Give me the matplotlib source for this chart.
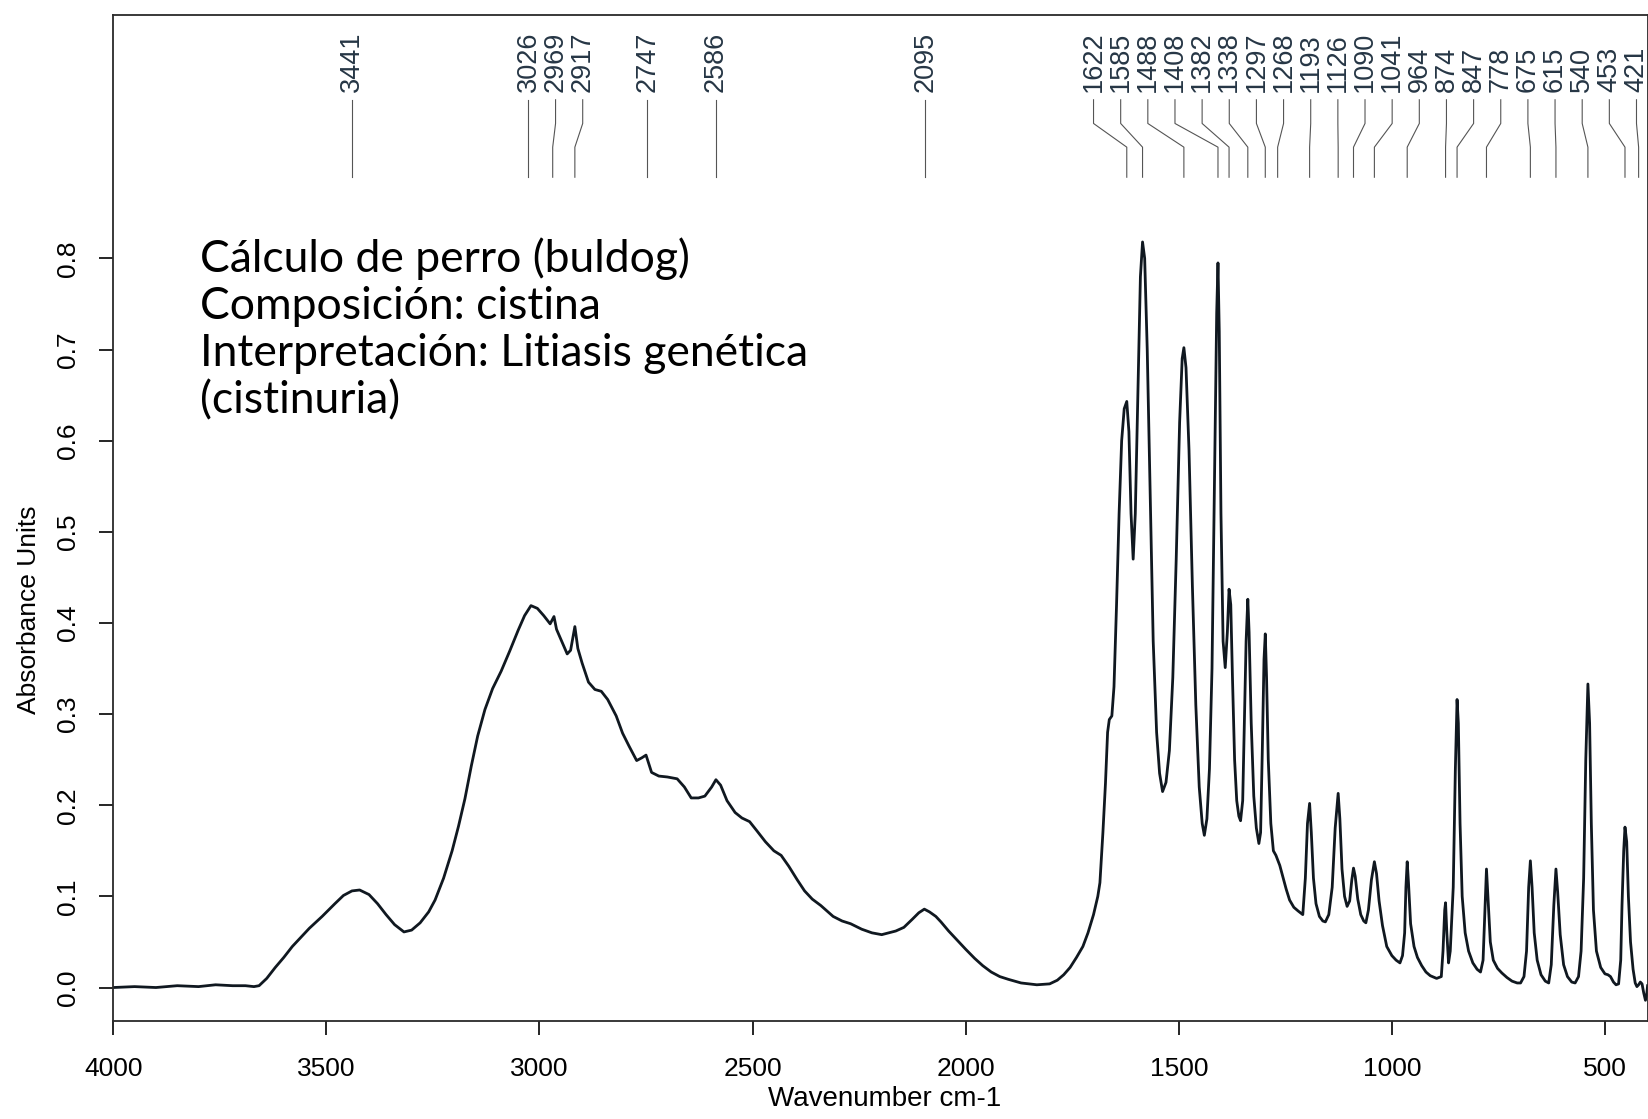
import matplotlib
matplotlib.use("Agg")
import matplotlib.pyplot as plt

# IR spectrum: wavenumber (cm-1) and absorbance, row by row
wavenumber = [
    4000, 3950, 3900, 3850, 3800, 3760, 3720, 3690, 3670, 3658,
    3640, 3620, 3600, 3580, 3564, 3540, 3510, 3480, 3460, 3440,
    3422, 3400, 3380, 3360, 3340, 3318, 3300, 3280, 3260, 3245,
    3225, 3205, 3190, 3175, 3160, 3145, 3128, 3110, 3090, 3070,
    3050, 3035, 3020, 3005, 2990, 2975, 2966, 2960, 2948, 2935,
    2927, 2917, 2910, 2900, 2885, 2870, 2855, 2840, 2820, 2805,
    2790, 2772, 2760, 2750, 2737, 2720, 2700, 2677, 2660, 2644,
    2627, 2612, 2596, 2586, 2575, 2560, 2541, 2525, 2507, 2490,
    2470, 2450, 2433, 2415, 2395, 2378, 2360, 2340, 2311, 2290,
    2270, 2244, 2220, 2197, 2180, 2164, 2145, 2125, 2110, 2097,
    2085, 2070, 2058, 2040, 2020, 2000, 1979, 1960, 1940, 1920,
    1900, 1870, 1833, 1803, 1785, 1770, 1755, 1740, 1725, 1713,
    1700, 1690, 1685, 1678, 1672, 1667, 1663, 1657, 1652, 1646,
    1640, 1634, 1628, 1622, 1617, 1612, 1607, 1602, 1596, 1590,
    1585, 1580, 1574, 1567, 1560, 1552, 1545, 1538, 1530, 1522,
    1514, 1506, 1498, 1492, 1488, 1483, 1476, 1468, 1460, 1452,
    1445, 1440, 1434, 1428, 1422, 1416, 1411, 1408, 1405, 1401,
    1396, 1391, 1386, 1382, 1378, 1374, 1369, 1364, 1359, 1355,
    1350, 1346, 1342, 1338, 1335, 1330, 1324, 1318, 1312, 1308,
    1304, 1300, 1297, 1294, 1290, 1284, 1278, 1272, 1268, 1263,
    1256, 1248, 1240, 1230, 1220, 1209, 1203, 1198, 1193, 1189,
    1184, 1178, 1170, 1162, 1156, 1148, 1140, 1133, 1126, 1122,
    1117, 1111, 1105, 1099, 1094, 1090, 1086, 1080, 1073, 1066,
    1061, 1055, 1048, 1041, 1036, 1030, 1022, 1012, 1000, 990,
    981, 975, 970, 967, 964, 961, 956, 948, 940, 930,
    920, 910, 900, 895, 884, 880, 876, 874, 871, 867,
    863, 856, 851, 847, 844, 840, 835, 828, 820, 810,
    800, 792, 786, 782, 778, 774, 769, 762, 752, 742,
    730, 718, 706, 698, 690, 684, 679, 675, 671, 666,
    659, 650, 640, 632, 626, 620, 615, 611, 605, 597,
    588, 578, 570, 562, 556, 550, 545, 540, 536, 532,
    527, 520, 510, 500, 493, 487, 480, 474, 468, 463,
    460, 456, 453, 449, 445, 440, 434, 429, 425, 421,
    417, 413, 409, 405, 402, 400,
]
absorbance = [
    0.000, 0.001, 0.000, 0.002, 0.001, 0.003, 0.002, 0.002, 0.001, 0.002,
    0.010, 0.022, 0.033, 0.045, 0.053, 0.065, 0.078, 0.092, 0.101, 0.106,
    0.107, 0.102, 0.092, 0.080, 0.069, 0.061, 0.063, 0.071, 0.083, 0.096,
    0.120, 0.150, 0.177, 0.207, 0.243, 0.276, 0.305, 0.328, 0.347, 0.369,
    0.392, 0.408, 0.419, 0.416, 0.408, 0.399, 0.407, 0.393, 0.380, 0.366,
    0.370, 0.396, 0.372, 0.356, 0.335, 0.327, 0.325, 0.316, 0.298, 0.279,
    0.265, 0.249, 0.252, 0.255, 0.236, 0.232, 0.231, 0.229, 0.220, 0.208,
    0.208, 0.210, 0.220, 0.228, 0.222, 0.205, 0.192, 0.186, 0.182, 0.172,
    0.160, 0.150, 0.145, 0.133, 0.118, 0.106, 0.097, 0.090, 0.078, 0.073,
    0.070, 0.064, 0.060, 0.058, 0.060, 0.062, 0.066, 0.075, 0.082, 0.086,
    0.083, 0.078, 0.072, 0.062, 0.052, 0.042, 0.032, 0.024, 0.017, 0.012,
    0.009, 0.005, 0.003, 0.004, 0.008, 0.014, 0.022, 0.033, 0.045, 0.060,
    0.080, 0.100, 0.115, 0.170, 0.224, 0.280, 0.294, 0.298, 0.330, 0.420,
    0.520, 0.600, 0.635, 0.643, 0.610, 0.520, 0.470, 0.520, 0.650, 0.780,
    0.818, 0.800, 0.700, 0.540, 0.380, 0.280, 0.235, 0.215, 0.225, 0.260,
    0.340, 0.470, 0.620, 0.690, 0.702, 0.680, 0.590, 0.440, 0.310, 0.220,
    0.180, 0.167, 0.185, 0.240, 0.350, 0.560, 0.740, 0.795, 0.720, 0.520,
    0.380, 0.351, 0.390, 0.437, 0.420, 0.340, 0.250, 0.205, 0.188, 0.183,
    0.205, 0.290, 0.380, 0.426, 0.390, 0.290, 0.210, 0.175, 0.158, 0.170,
    0.260, 0.360, 0.388, 0.340, 0.250, 0.180, 0.150, 0.145, 0.140, 0.134,
    0.122, 0.108, 0.096, 0.088, 0.084, 0.080, 0.120, 0.180, 0.202, 0.170,
    0.120, 0.092, 0.078, 0.073, 0.072, 0.080, 0.110, 0.175, 0.213, 0.185,
    0.130, 0.100, 0.089, 0.095, 0.118, 0.131, 0.122, 0.097, 0.080, 0.073,
    0.071, 0.085, 0.118, 0.138, 0.125, 0.095, 0.068, 0.045, 0.035, 0.030,
    0.027, 0.035, 0.060, 0.110, 0.138, 0.115, 0.070, 0.045, 0.033, 0.024,
    0.017, 0.013, 0.011, 0.010, 0.012, 0.040, 0.085, 0.093, 0.060, 0.027,
    0.040, 0.110, 0.240, 0.316, 0.290, 0.180, 0.100, 0.060, 0.040, 0.027,
    0.020, 0.017, 0.030, 0.080, 0.130, 0.095, 0.050, 0.030, 0.021, 0.016,
    0.011, 0.007, 0.005, 0.005, 0.012, 0.040, 0.110, 0.139, 0.110, 0.060,
    0.030, 0.014, 0.007, 0.005, 0.025, 0.090, 0.130, 0.105, 0.058, 0.025,
    0.012, 0.006, 0.005, 0.012, 0.040, 0.120, 0.250, 0.333, 0.290, 0.180,
    0.085, 0.040, 0.022, 0.015, 0.014, 0.012, 0.006, 0.003, 0.004, 0.030,
    0.090, 0.150, 0.176, 0.160, 0.100, 0.050, 0.020, 0.005, 0.001, 0.003,
    0.006, 0.004, -0.006, -0.014, -0.008, 0.002,
]

peak_labels = [3441, 3026, 2969, 2917, 2747, 2586, 2095, 1622, 1585, 1488, 1408, 1382, 1338,
               1297, 1268, 1193, 1126, 1090, 1041, 964, 874, 847, 778, 675, 615, 540, 453, 421]

note_lines = ["Cálculo de perro (buldog)", "Composición: cistina",
              "Interpretación: Litiasis genética", "(cistinuria)"]

x_ticks = [4000, 3500, 3000, 2500, 2000, 1500, 1000, 500]
y_ticks = [0.0, 0.1, 0.2, 0.3, 0.4, 0.5, 0.6, 0.7, 0.8]

W, H = 1648, 1119
fig = plt.figure(figsize=(W / 100, H / 100), dpi=100)
ax = fig.add_axes([113.3 / W, 1 - 1020.7 / H, (W - 113.3) / W, (1020.7 - 15) / H])

ax.plot(wavenumber, absorbance, color="#101820", lw=2.0)
ax.set_xlim(4000, 399)
ax.set_ylim(-0.0364, 1.067)

sans = ["Liberation Sans", "DejaVu Sans"]
ax.set_xticks(x_ticks)
ax.set_xticklabels([str(t) for t in x_ticks], fontsize=19, family=sans)
ax.set_yticks(y_ticks)
ax.set_yticklabels(["%.1f" % t for t in y_ticks], fontsize=19, family=sans,
                   rotation=90, va="center")
ax.tick_params(axis="x", direction="out", length=10, width=1.2, pad=16)
ax.tick_params(axis="y", direction="out", length=10, width=1.2, pad=14)
for s in ax.spines.values():
    s.set_linewidth(1.3)
    s.set_color("#2a2a2a")

fig.text(29 / W, 1 - 610 / H, "Absorbance Units", rotation=90, ha="center", va="center",
         fontsize=19, family=sans)
fig.text(885 / W, 1 - 1099 / H, "Wavenumber cm-1", ha="center", va="center",
         fontsize=20, family=sans)


# spread the peak labels so they do not overlap
def spread(peaks, gap, right_lim):
    pos = []
    for p in peaks:
        pos.append(p if not pos else min(p, pos[-1] - gap))
    pos[-1] = max(pos[-1], right_lim)
    for i in range(len(pos) - 2, -1, -1):
        pos[i] = max(pos[i], pos[i + 1] + gap)
    return pos


label_x = spread(peak_labels, 63.7, 426)
for p, lx in zip(peak_labels, label_x):
    ax.plot([lx, lx, p, p], [0.974, 0.948, 0.922, 0.889], color="#555555", lw=0.8)
    ax.text(lx, 0.983, str(p), rotation=90, ha="center", va="bottom", fontsize=19.5,
            family=sans, color="#263645")

note_font = ["Lato", "DejaVu Sans"]
for i, line in enumerate(note_lines):
    fig.text(200 / W, 1 - (272 + 47 * i) / H, line, ha="left", va="baseline",
             fontsize=32, family=note_font, color="black")

fig.savefig("out.png", dpi=100)
